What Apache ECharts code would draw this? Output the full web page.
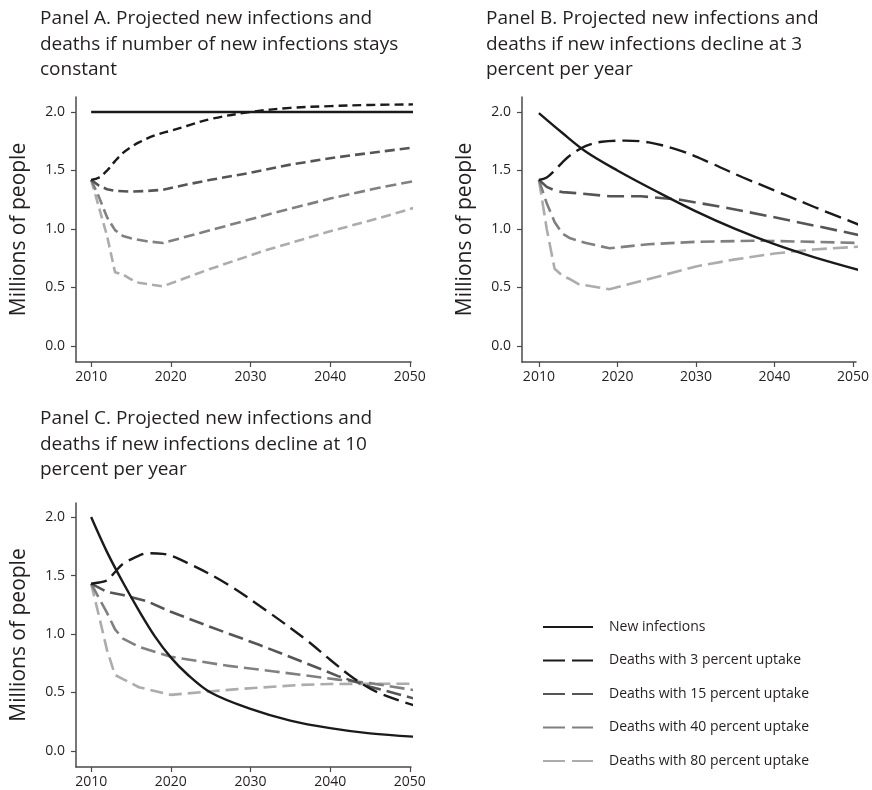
<!DOCTYPE html>
<html>
<head>
<meta charset="utf-8">
<script src="https://cdn.jsdelivr.net/npm/echarts@6/dist/echarts.min.js"></script>
<style>
html,body{margin:0;padding:0;background:#fff;}
#chart{width:872px;height:790px;}
</style>
</head>
<body>
<div id="chart"></div>
<script>
// ---------- Data ----------
const seriesNames = ['New infections','Deaths with 3 percent uptake','Deaths with 15 percent uptake','Deaths with 40 percent uptake','Deaths with 80 percent uptake'];
const panelTitles = [
  'Panel A. Projected new infections and\ndeaths if number of new infections stays\nconstant',
  'Panel B. Projected new infections and\ndeaths if new infections decline at 3\npercent per year',
  'Panel C. Projected new infections and\ndeaths if new infections decline at 10\npercent per year'
];
const xTicks = [2010, 2020, 2030, 2040, 2050];
const yTicks = [0, 0.5, 1.0, 1.5, 2.0];
const yAxisName = 'Millions of people';

// Panel A
const yrA_new = [2010, 2051];
const A_new   = [2.0, 2.0];
const yrA_d3  = [2010,2011,2012,2013,2014,2015,2016,2018,2020,2022,2025,2030,2035,2040,2045,2051];
const A_d3    = [1.42,1.44,1.50,1.58,1.65,1.70,1.74,1.80,1.84,1.88,1.94,2.00,2.035,2.05,2.06,2.065];
const yrA_d15 = [2010,2011,2012,2013,2015,2017,2019,2022,2025,2030,2035,2040,2045,2051];
const A_d15   = [1.42,1.37,1.34,1.325,1.32,1.325,1.335,1.38,1.42,1.48,1.55,1.605,1.65,1.70];
const yrA_d40 = [2010,2011,2012,2013,2014,2015,2017,2019,2025,2032,2040,2046,2051];
const A_d40   = [1.42,1.27,1.10,0.99,0.94,0.92,0.895,0.88,0.99,1.12,1.26,1.35,1.415];
const yrA_d80 = [2010,2011,2012,2013,2014,2015,2016,2019,2025,2032,2040,2046,2051];
const A_d80   = [1.42,1.18,0.94,0.63,0.61,0.57,0.54,0.51,0.66,0.82,0.98,1.09,1.19];

// Panel B
const yrB_new = [2010,2013,2016,2020,2025,2030,2035,2040,2045,2051];
const B_new   = [1.99,1.82,1.66,1.50,1.32,1.15,1.00,0.87,0.76,0.645];
const yrB_d3  = [2010,2011,2012,2013,2014,2016,2018,2021,2024,2028,2032,2036,2040,2045,2051];
const B_d3    = [1.42,1.44,1.50,1.57,1.63,1.71,1.745,1.755,1.74,1.67,1.56,1.44,1.33,1.19,1.03];
const yrB_d15 = [2010,2011,2012,2013,2015,2019,2023,2028,2034,2040,2045,2051];
const B_d15   = [1.42,1.36,1.33,1.315,1.305,1.28,1.28,1.25,1.18,1.10,1.03,0.945];
const yrB_d40 = [2010,2011,2012,2013,2014,2016,2019,2024,2030,2038,2045,2051];
const B_d40   = [1.42,1.22,1.06,0.96,0.92,0.88,0.835,0.87,0.89,0.90,0.89,0.88];
const yrB_d80 = [2010,2011,2012,2013,2014,2015,2019,2025,2030,2035,2040,2045,2051];
const B_d80   = [1.42,1.00,0.66,0.60,0.57,0.53,0.485,0.59,0.68,0.74,0.79,0.825,0.85];

// Panel C
const yrC_new = [2010,2012,2014,2016,2018,2020,2022,2025,2030,2035,2040,2045,2051];
const C_new   = [2.0,1.70,1.44,1.20,0.98,0.80,0.66,0.50,0.36,0.26,0.195,0.15,0.12];
const yrC_d3  = [2010,2011,2012,2013,2014,2016,2017,2019,2022,2027,2032,2037,2040,2043,2046,2051];
const C_d3    = [1.43,1.44,1.46,1.53,1.60,1.67,1.69,1.685,1.61,1.43,1.20,0.95,0.78,0.62,0.50,0.38];
const yrC_d15 = [2010,2012,2014,2017,2020,2025,2031,2037,2041,2045,2051];
const C_d15   = [1.43,1.36,1.333,1.28,1.19,1.06,0.91,0.75,0.64,0.55,0.44];
const yrC_d40 = [2010,2012,2013,2014,2016,2020,2027,2033,2041,2045,2051];
const C_d40   = [1.43,1.18,1.04,0.96,0.89,0.805,0.73,0.68,0.61,0.58,0.515];
const yrC_d80 = [2010,2011,2012,2013,2014,2015,2016,2020,2028,2036,2040,2051];
const C_d80   = [1.43,1.15,0.86,0.65,0.615,0.58,0.545,0.48,0.527,0.564,0.573,0.575];

// ---------- Styling ----------
const FONT = '"Open Sans", "Noto Sans", sans-serif';
const TXT = '#231f20';
const AXC = '#4a4a4a';
const colors = ['#1a1a1a', '#1a1a1a', '#555555', '#808080', '#acacac'];
const widths = [2.4, 2.4, 2.6, 2.6, 2.6];
const dashA = ['solid', [9,5], [10,5], [11,5], [10,5]];
const dashB = ['solid', [17,7], [17,7], [14,6], [15,6]];
const dashC = ['solid', [16,7], [15,6], [15,6], [13,6]];
const dashLegend = ['solid', [22,7], [22,7], [22,7], [22,7]];
const smoothFlags = [0.35, 0.35, false, false, false];

const pairs = (xs, ys) => xs.map((x, i) => [x, ys[i]]);
const panelData = [
  [pairs(yrA_new, A_new), pairs(yrA_d3, A_d3), pairs(yrA_d15, A_d15), pairs(yrA_d40, A_d40), pairs(yrA_d80, A_d80)],
  [pairs(yrB_new, B_new), pairs(yrB_d3, B_d3), pairs(yrB_d15, B_d15), pairs(yrB_d40, B_d40), pairs(yrB_d80, B_d80)],
  [pairs(yrC_new, C_new), pairs(yrC_d3, C_d3), pairs(yrC_d15, C_d15), pairs(yrC_d40, C_d40), pairs(yrC_d80, C_d80)]
];
const dashes = [dashA, dashB, dashC];

const grids = [
  {left: 76, top: 97, width: 335, height: 265},
  {left: 522, top: 97, width: 336, height: 265},
  {left: 76, top: 503, width: 335, height: 264}
];
const xRanges = [[2008.1, 2050.15], [2007.85, 2050.38], [2008.1, 2050.15]];
const yRanges = [[-0.137, 2.128], [-0.137, 2.128], [-0.137, 2.12]];
const titlePos = [{left: 40, top: 6}, {left: 486, top: 6}, {left: 40, top: 406}];

const xAxes = grids.map((g, i) => ({
  type: 'value', gridIndex: i, min: xRanges[i][0], max: xRanges[i][1],
  splitLine: {show: false},
  axisLine: {show: true, onZero: false, lineStyle: {color: AXC, width: 1.5}},
  axisTick: {show: true, length: 5, customValues: xTicks, lineStyle: {color: AXC, width: 1.2}},
  axisLabel: {customValues: xTicks, margin: 8, color: TXT, fontSize: 14, fontFamily: FONT,
              formatter: v => String(Math.round(v))}
}));
const yAxes = grids.map((g, i) => ({
  type: 'value', gridIndex: i, min: yRanges[i][0], max: yRanges[i][1],
  splitLine: {show: false},
  axisLine: {show: true, onZero: false, lineStyle: {color: AXC, width: 1.5}},
  axisTick: {show: true, length: 5, customValues: yTicks, lineStyle: {color: AXC, width: 1.2}},
  axisLabel: {customValues: yTicks, margin: 11, color: TXT, fontSize: 14, fontFamily: FONT,
              formatter: v => v.toFixed(1)},
  name: yAxisName, nameLocation: 'middle', nameGap: 46, nameRotate: 90,
  nameTextStyle: {color: TXT, fontSize: 21, fontFamily: FONT}
}));

const series = [];
// legend-only entries (listed first so the legend takes their style)
seriesNames.forEach((n, k) => {
  series.push({
    name: n, type: 'line', xAxisIndex: 0, yAxisIndex: 0, data: [],
    symbol: 'none', lineStyle: {color: colors[k], width: 2.6, type: dashLegend[k]},
    itemStyle: {color: colors[k]}
  });
});
panelData.forEach((pd, p) => {
  pd.forEach((d, k) => {
    series.push({
      name: seriesNames[k], type: 'line', xAxisIndex: p, yAxisIndex: p, data: d,
      symbol: 'none', showSymbol: false, clip: false, silent: true,
      smooth: smoothFlags[k],
      z: 10 - k,
      lineStyle: {color: colors[k], width: widths[k], type: dashes[p][k], cap: 'butt'},
      itemStyle: {color: colors[k]}
    });
  });
});

const option = {
  animation: false,
  backgroundColor: '#ffffff',
  title: panelTitles.map((t, i) => ({
    text: t, left: titlePos[i].left, top: titlePos[i].top, padding: 0,
    textStyle: {color: TXT, fontSize: 19, fontWeight: 'normal', fontFamily: FONT, lineHeight: 25.5}
  })),
  grid: grids,
  xAxis: xAxes,
  yAxis: yAxes,
  legend: {
    orient: 'vertical', left: 542, top: 620, padding: 0,
    itemWidth: 50, itemHeight: 14, itemGap: 19.5,
    selectedMode: false,
    data: seriesNames,
    itemStyle: {color: 'rgba(0,0,0,0)', borderColor: 'rgba(0,0,0,0)', borderWidth: 0, opacity: 0},
    textStyle: {color: TXT, fontSize: 14, fontFamily: FONT, padding: [0, 0, 0, 11]}
  },
  series: series
};

const chart = echarts.init(document.getElementById('chart'), null, {renderer: 'canvas'});
chart.setOption(option);
</script>
</body>
</html>
